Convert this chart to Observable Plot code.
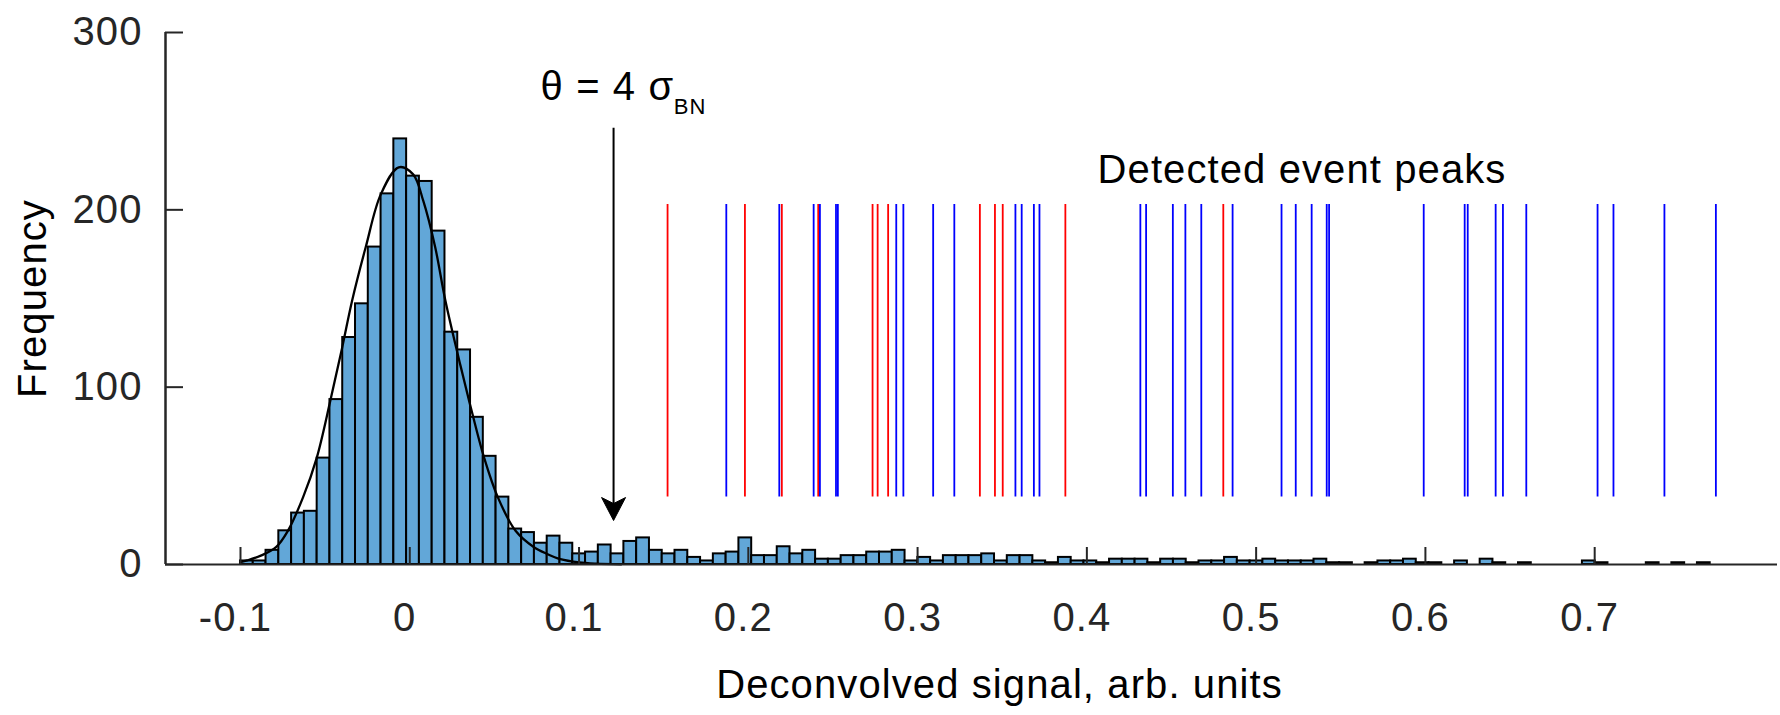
<!DOCTYPE html>
<html><head><meta charset="utf-8">
<script src="https://cdn.jsdelivr.net/npm/d3@7"></script>
<script src="https://cdn.jsdelivr.net/npm/@observablehq/plot@0.6"></script>
<style>html,body{margin:0;padding:0;background:#fff;overflow:hidden}</style>
</head><body><div id="chart"></div>
<script>
// Histogram: bins of equal width starting at binStart
const binStart = -0.1;
const binWidth = 0.00755;
const counts = [2,2,8,19,29,30,60,93,128,147,179,209,240,219,216,188,131,121,83,61,
  38,20,18,12,16,12,6,7,11,6,13,15,8,6,8,4,2,6,7,15,
  5,5,10,6,8,3,3,5,5,7,7,8,2,4,2,5,5,5,6,2,
  5,5,2,1,4,2,2,1,3,3,3,1,3,3,1,2,2,4,2,2,
  3,2,2,2,3,1,1,0,1,2,2,3,1,1,0,2,0,3,1,0,
  1,0,0,0,0,2,1,0,0,0,1,0,1,0,1];

// Fitted curve, read point by point
const fitX = [-0.100,-0.096,-0.088,-0.079,-0.072,-0.063,-0.055,-0.047,-0.040,-0.034,-0.026,-0.017,-0.0065,0.002,0.008,0.015,0.021,0.030,0.037,0.044,0.052,0.0625,0.073,0.081,0.089,0.100,0.110,0.125];
const fitY = [1.3,2.3,5,9.8,19,38,60,92,122,149,179,209,224,220,205,179,149,112,85,60,38,19,10,6,3,1.2,0.5,0.1];

// Detected event peaks
const redPeaks = [0.1523,0.1980,0.2198,0.2413,0.2734,0.2764,0.2826,0.3368,0.3457,0.3503,0.3873,0.4806];
const bluePeaks = [0.1870,0.2183,0.2386,0.2423,0.2518,0.2529,0.2874,0.2916,0.3092,0.3217,0.3578,0.3615,0.3687,0.3720,
  0.4316,0.4350,0.4508,0.4582,0.4676,0.4861,0.5150,0.5234,0.5328,0.5417,0.5431,0.5990,0.6232,0.6250,
  0.6415,0.6458,0.6596,0.7017,0.7111,0.7412,0.7716];

const xTicks = [-0.1,0,0.1,0.2,0.3,0.4,0.5,0.6,0.7];
const xTickLabels = ["-0.1","0","0.1","0.2","0.3","0.4","0.5","0.6","0.7"];
const yTicks = [0,100,200,300];
const xLabel = "Deconvolved signal, arb. units";
const yLabel = "Frequency";
const thresholdText = "θ = 4 σ";
const thresholdSub = "BN";
const peaksText = "Detected event peaks";
const thresholdValue = 0.1204;

const bins = counts.map((c, i) => ({x1: binStart + i * binWidth, x2: binStart + (i + 1) * binWidth, y: c})).filter(d => d.y > 0);
const fit = fitX.map((x, i) => ({x, y: fitY[i]}));

const FONT = "'Liberation Sans', Arial, sans-serif";
const AX = "#262626";
const xDomain = [-0.1443, 0.808];

const stealth = {
  draw(ctx) {
    ctx.moveTo(0, 0);
    ctx.lineTo(-12, -23);
    ctx.lineTo(0, -17);
    ctx.lineTo(12, -23);
    ctx.closePath();
  }
};

const chart = Plot.plot({
  width: 1780, height: 715,
  marginLeft: 165, marginRight: 3, marginTop: 32, marginBottom: 151,
  style: {fontFamily: FONT, fontSize: "40px", background: "#fff", letterSpacing: "1.1px"},
  x: {domain: xDomain},
  y: {domain: [0, 300]},
  marks: [
    Plot.rectY(bins, {x1: "x1", x2: "x2", y: "y", fill: "#62a7d8", stroke: "#000", strokeWidth: 2, inset: 0}),
    Plot.line(fit, {x: "x", y: "y", stroke: "#000", strokeWidth: 2.3, curve: "catmull-rom"}),
    Plot.ruleX(redPeaks, {x: d => d, y1: 38, y2: 203, stroke: "#ff0000", strokeWidth: 1.8}),
    Plot.ruleX(bluePeaks, {x: d => d, y1: 38, y2: 203, stroke: "#0000ff", strokeWidth: 1.8}),
    Plot.ruleX([thresholdValue], {x: d => d, y1: 246, y2: 32, stroke: "#000", strokeWidth: 2}),
    Plot.dot([thresholdValue], {x: d => d, y: 24.8, symbol: stealth, fill: "#000", stroke: "#000", strokeWidth: 1, r: 10}),
    Plot.text([thresholdText], {x: 0.0773, y: 278, text: d => d, textAnchor: "start", lineAnchor: "top", fontSize: 40, fill: "#000", fontFamily: FONT}),
    Plot.text([thresholdSub], {x: 0.1560, y: 263, text: d => d, textAnchor: "start", lineAnchor: "top", fontSize: 22, fill: "#000", fontFamily: FONT}),
    Plot.text([peaksText], {x: 0.5271, y: 231, text: d => d, textAnchor: "middle", lineAnchor: "top", fontSize: 40, fill: "#000", fontFamily: FONT}),
    Plot.ruleY([0], {stroke: AX, strokeWidth: 2}),
    Plot.ruleX([xDomain[0]], {stroke: AX, strokeWidth: 2.5}),
    Plot.axisX(xTicks, {tickSize: -17, tickFormat: () => "", label: null, stroke: AX, strokeWidth: 2}),
    Plot.axisX(xTicks, {tickSize: 0, tickPadding: 38, dx: -5, tickFormat: d => xTickLabels[xTicks.indexOf(d)], label: null, fontSize: 40, fill: AX}),
    Plot.axisY(yTicks, {tickSize: -18, tickFormat: () => "", label: null, stroke: AX, strokeWidth: 2}),
    Plot.axisY(yTicks, {tickSize: 0, tickPadding: 23, tickFormat: d => String(d), label: null, fontSize: 40, fill: AX}),
    Plot.text([yLabel], {frameAnchor: "left", text: d => d, rotate: -90, dx: -132, lineAnchor: "middle", textAnchor: "middle", fontSize: 40, fill: "#000", fontFamily: FONT, ariaLabel: "ylabel"}),
    Plot.text([xLabel], {frameAnchor: "bottom", text: d => d, dx: 28, dy: 105, lineAnchor: "top", textAnchor: "middle", fontSize: 40, fill: "#000", fontFamily: FONT})
  ]
});
// vertical label is not stretched in the reference
d3.select(chart).selectAll('g[aria-label="ylabel"]').style("letter-spacing", "0px");
document.getElementById("chart").appendChild(chart);
</script>
</body></html>
